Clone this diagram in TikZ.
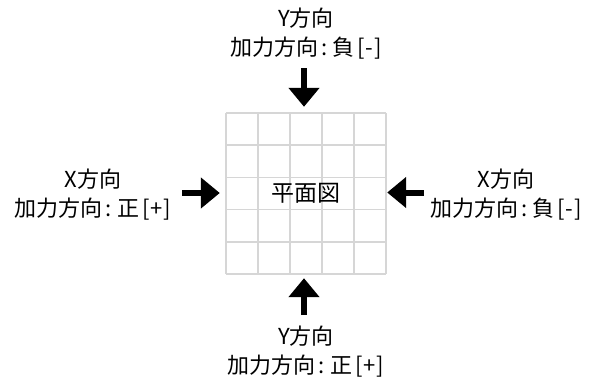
\documentclass[tikz,border=0pt]{standalone}
\usepackage{fontspec}
\setmainfont{Noto Sans CJK JP}
\usetikzlibrary{arrows.meta}
\newcommand\kcolon{\hspace{3pt}:\hspace{5pt}}
\newcommand\kbr[1]{\hspace{3pt}[\hspace{1pt}#1\hspace{1pt}]}
\begin{document}
\begin{tikzpicture}[x=1pt,y=-1pt,
  lbl/.style={font=\fontsize{22}{29}\selectfont, align=center, inner sep=0pt},
  force/.style={line width=6pt, -{Triangle[width=30pt,length=19pt]}},
  gridline/.style={draw=black!16, line width=1.5pt}]
\useasboundingbox (0,0) rectangle (592,383);
\foreach \i in {0,...,5} {
  \draw[gridline] (226+32*\i,113) -- (226+32*\i,274);
  \draw[gridline] (226,113+32.2*\i) -- (386,113+32.2*\i);
}
\node[minimum width=160pt, minimum height=161pt, inner sep=0pt,
  font=\fontsize{23}{27}\selectfont] (plan) at (306,193.5) {平面図};
\node[lbl] (top) at (306,33.5) {Y方向\\加力方向\kcolon 負\kbr{-}};
\node[lbl] (left) at (93,195) {X方向\\加力方向\kcolon 正\kbr{+}};
\node[lbl] (right) at (506,195) {X方向\\加力方向\kcolon 負\kbr{-}};
\node[lbl] (bottom) at (306,351.5) {Y方向\\加力方向\kcolon 正\kbr{+}};
\coordinate (ts) at (304,68);
\coordinate (ls) at (182,193);
\coordinate (rs) at (424,192.5);
\coordinate (bs) at (304,315);
\draw[force] (ts) -- ([xshift=-2pt,yshift=6pt]plan.north);
\draw[force] (ls) -- ([xshift=-6pt,yshift=0.5pt]plan.west);
\draw[force] (rs) -- ([xshift=1pt,yshift=1pt]plan.east);
\draw[force] (bs) -- ([xshift=-2pt,yshift=-4pt]plan.south);
\end{tikzpicture}
\end{document}
